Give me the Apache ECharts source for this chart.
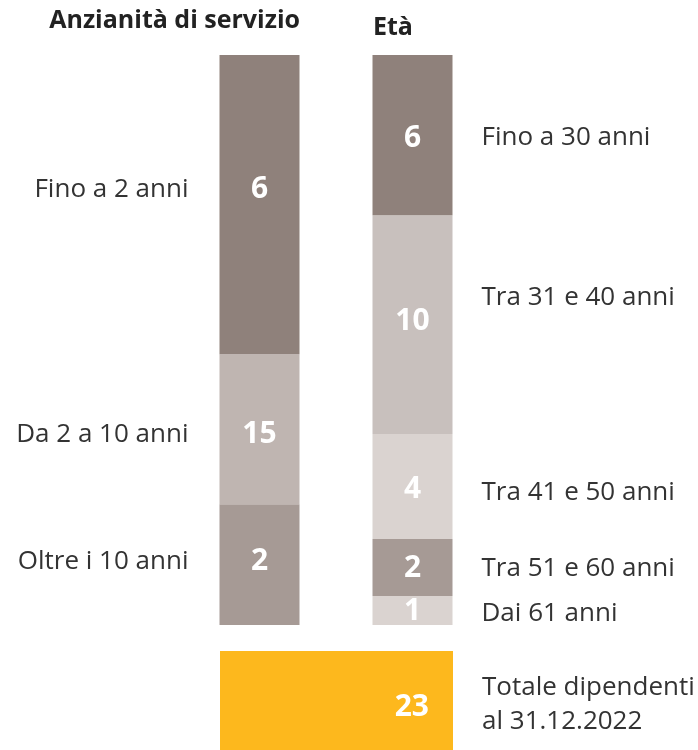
<!DOCTYPE html>
<html>
<head>
<meta charset="utf-8">
<script src="https://cdn.jsdelivr.net/npm/echarts@6/dist/echarts.min.js"></script>
<style>
  html, body { margin: 0; padding: 0; background: #fff; }
  #chart { width: 698px; height: 750px; }
</style>
</head>
<body>
<div id="chart"></div>
<script>
// segments listed top to bottom
var seniorityNames = ["Fino a 2 anni", "Da 2 a 10 anni", "Oltre i 10 anni"];
var seniorityCounts = [6, 15, 2];
var seniorityShare = [52.5, 26.3, 21.2]; // height of each block, % of the column

var ageNames = ["Fino a 30 anni", "Tra 31 e 40 anni", "Tra 41 e 50 anni", "Tra 51 e 60 anni", "Dai 61 anni"];
var ageCounts = [6, 10, 4, 2, 1];
var ageShare = [28.1, 38.4, 18.4, 10.0, 5.1];

var totalName = "Totale dipendenti\nal 31.12.2022";
var totalCount = 23;

// styling / layout
var seniorityColors = ["#8f817b", "#bfb5b1", "#a69a95"];
var ageColors = ["#8f817b", "#c8c0bd", "#dad3d0", "#a69a95", "#dad3d0"];
var seniorityNumShift = [-15, 5, -3];
var seniorityNameShift = [-15, 5, -3];
var ageNumShift = [3, -3, 3, 1, 1];
var ageNameShift = [3, -27, 6, 1, 3];
var font = "Open Sans";

var chart = echarts.init(document.getElementById("chart"));

var numStyle = { color: "#fff", fontSize: 30, fontWeight: "bold", fontFamily: font, width: 80, align: "center" };

// moves the name token up/down relative to the number token
function namePad(d, left, right) {
  var top = d > 0 ? 2 * d : 0;
  var bottom = d < 0 ? -2 * d : 0;
  return { color: "#333", fontSize: 26, fontFamily: font, padding: [top, right, bottom, left] };
}

var series = [];
// left column (bottom first for stacking)
for (var i = seniorityNames.length - 1; i >= 0; i--) {
  series.push({
    type: "bar",
    stack: "all",
    barWidth: 80,
    itemStyle: { color: seniorityColors[i] },
    label: {
      show: true,
      position: ["100%", "50%"],
      align: "right",
      verticalAlign: "middle",
      offset: [0, seniorityNumShift[i]],
      formatter: "{n|" + seniorityNames[i] + "}{v|" + seniorityCounts[i] + "}",
      rich: {
        n: namePad(seniorityNameShift[i] - seniorityNumShift[i], 0, 31),
        v: numStyle
      }
    },
    data: [seniorityShare[i], "-"]
  });
}
// right column
for (var j = ageNames.length - 1; j >= 0; j--) {
  series.push({
    type: "bar",
    stack: "all",
    barWidth: 80,
    itemStyle: { color: ageColors[j] },
    label: {
      show: true,
      position: [0, "50%"],
      align: "left",
      verticalAlign: "middle",
      offset: [0, ageNumShift[j]],
      formatter: "{v|" + ageCounts[j] + "}{n|" + ageNames[j] + "}",
      rich: {
        v: numStyle,
        n: namePad(ageNameShift[j] - ageNumShift[j], 29, 0)
      }
    },
    data: ["-", ageShare[j]]
  });
}
// total bar
series.push({
  type: "bar",
  xAxisIndex: 1,
  yAxisIndex: 1,
  barWidth: "100%",
  itemStyle: { color: "#fdb81d" },
  label: {
    show: true,
    position: "insideRight",
    distance: 24,
    offset: [0, 2],
    color: "#fff",
    fontSize: 30,
    fontWeight: "bold",
    fontFamily: font
  },
  data: [totalCount]
});

var option = {
  animation: false,
  title: [
    {
      text: "Anzianità di servizio",
      right: 398,
      top: 8,
      padding: 0,
      textStyle: { color: "#222", fontSize: 25, fontWeight: "bold", fontFamily: font }
    },
    {
      text: "Età",
      left: 373,
      top: 15,
      padding: 0,
      textStyle: { color: "#222", fontSize: 25, fontWeight: "bold", fontFamily: font }
    }
  ],
  grid: [
    { left: 183, top: 55, width: 306, height: 570, outerBoundsMode: "none" },
    { left: 220, top: 651, width: 233, height: 108, outerBoundsMode: "none" }
  ],
  xAxis: [
    { type: "category", gridIndex: 0, data: ["Anzianità di servizio", "Età"], show: false },
    { type: "value", gridIndex: 1, min: 0, max: totalCount, show: false }
  ],
  yAxis: [
    { type: "value", gridIndex: 0, min: 0, max: 100, show: false },
    {
      type: "category",
      gridIndex: 1,
      position: "right",
      data: [totalName],
      axisLine: { show: false },
      axisTick: { show: false },
      axisLabel: {
        margin: 29,
        align: "left",
        color: "#333",
        fontSize: 26,
        lineHeight: 34,
        fontFamily: font,
        padding: [8, 0, 0, 0]
      }
    }
  ],
  series: series
};

chart.setOption(option);
</script>
</body>
</html>
